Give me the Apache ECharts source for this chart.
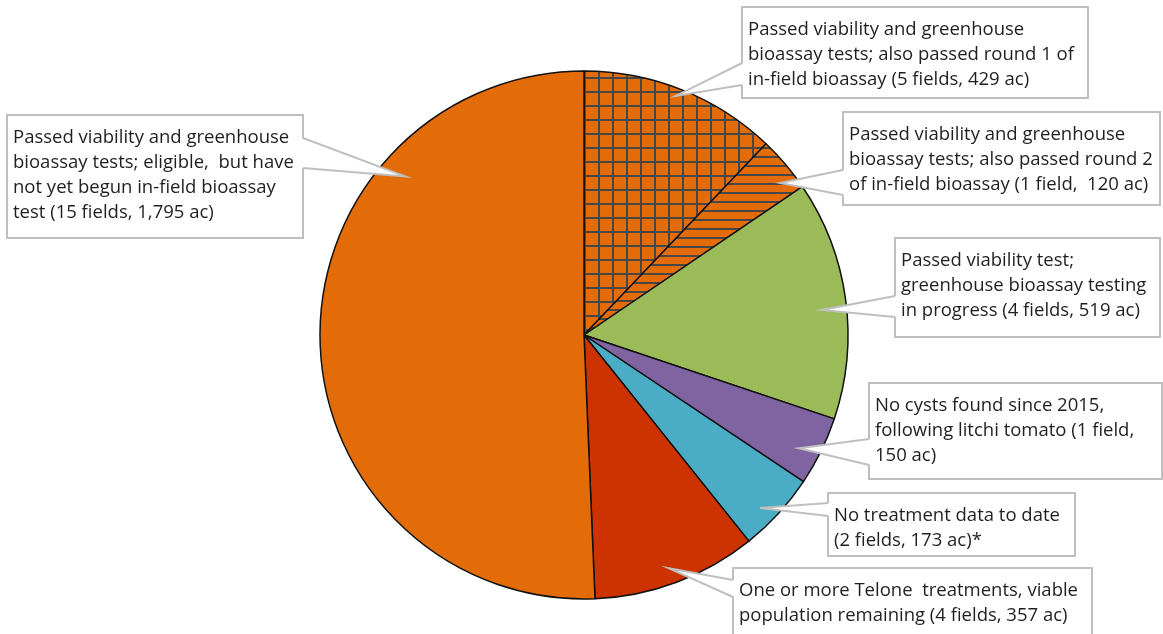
<!DOCTYPE html>
<html>
<head>
<meta charset="utf-8">
<script src="https://cdn.jsdelivr.net/npm/echarts@6/dist/echarts.min.js"></script>
<style>
html,body{margin:0;padding:0;background:#fff;}
#main{width:1163px;height:634px;}
</style>
</head>
<body>
<div id="main"></div>
<script>
// ---- data ----
const categories = [
  'Passed round 1 of in-field bioassay',
  'Passed round 2 of in-field bioassay',
  'Greenhouse bioassay testing in progress',
  'No cysts found since 2015',
  'No treatment data to date',
  'Telone treatments, viable population remaining',
  'Eligible, not yet begun in-field bioassay'
];
const acres  = [429, 120, 519, 150, 173, 357, 1795];
const fields = [5, 1, 4, 1, 2, 4, 15];
const labelTemplates = [
  'Passed viability and greenhouse\nbioassay tests; also passed round 1 of\nin-field bioassay ({f} fields, {a} ac)',
  'Passed viability and greenhouse\nbioassay tests; also passed round 2\nof in-field bioassay ({f} field,  {a} ac)',
  'Passed viability test;\ngreenhouse bioassay testing\nin progress ({f} fields, {a} ac)',
  'No cysts found since 2015,\nfollowing litchi tomato ({f} field,\n{a} ac)',
  'No treatment data to date\n({f} fields, {a} ac)*',
  'One or more Telone  treatments, viable\npopulation remaining ({f} fields, {a} ac)',
  'Passed viability and greenhouse\nbioassay tests; eligible,  but have\nnot yet begun in-field bioassay\ntest ({f} fields, {a} ac)'
];

// ---- styles / layout ----
const CX = 584, CY = 335, R = 264;
const ORANGE = '#E36C09';
function gridPattern() {
  const c = document.createElement('canvas'); c.width = 14; c.height = 14;
  const g = c.getContext('2d');
  g.fillStyle = ORANGE; g.fillRect(0, 0, 14, 14);
  g.fillStyle = '#474747';
  g.fillRect(10, 0, 2, 14);
  g.fillRect(0, 7, 14, 2);
  return c;
}
function horizPattern() {
  const c = document.createElement('canvas'); c.width = 9; c.height = 9;
  const g = c.getContext('2d');
  g.fillStyle = ORANGE; g.fillRect(0, 0, 9, 9);
  g.fillStyle = '#474747';
  g.fillRect(0, 3, 9, 2);
  return c;
}
const fills = [
  { image: gridPattern(), repeat: 'repeat' },
  { image: horizPattern(), repeat: 'repeat' },
  '#9BBB59', '#8064A2', '#4BACC6', '#CC3300', ORANGE
];
// callout boxes: rect, tip (angle clockwise from top, radius fraction), wedge base on a box edge
const callouts = [
  { x: 742, y: 7,   w: 346, h: 91,  ang: 21.0,  rf: 0.97,  edge: 'left',  b: [63, 85] },
  { x: 843, y: 112, w: 317, h: 93,  ang: 52.2,  rf: 0.94,  edge: 'left',  b: [170, 195] },
  { x: 895, y: 238, w: 265, h: 99,  ang: 84.0,  rf: 0.905, edge: 'left',  b: [296, 317] },
  { x: 869, y: 383, w: 293, h: 96,  ang: 117.8, rf: 0.92,  edge: 'left',  b: [439, 465] },
  { x: 828, y: 493, w: 247, h: 63,  ang: 134.5, rf: 0.935, edge: 'left',  b: [503, 516] },
  { x: 733, y: 568, w: 359, h: 80,  ang: 160.0, rf: 0.94,  edge: 'left',  b: [580, 597] },
  { x: 7,   y: 115, w: 296, h: 123, ang: 311.6, rf: 0.905, edge: 'right', b: [138, 168] }
];

const graphics = [];
callouts.forEach((c, i) => {
  const a = c.ang * Math.PI / 180;
  const tip = [CX + Math.sin(a) * R * c.rf, CY - Math.cos(a) * R * c.rf];
  const ex = c.edge === 'left' ? c.x : c.x + c.w;
  const inset = c.edge === 'left' ? 1.5 : -1.5;
  const text = labelTemplates[i]
    .replace('{f}', fields[i])
    .replace('{a}', acres[i].toLocaleString('en-US'));
  graphics.push(
    { type: 'rect', z: 10, silent: true,
      shape: { x: c.x, y: c.y, width: c.w, height: c.h },
      style: { fill: '#fff', stroke: '#BFBFBF', lineWidth: 2 } },
    { type: 'polygon', z: 11, silent: true,
      shape: { points: [tip, [ex + inset, c.b[0]], [ex + inset, c.b[1]]] },
      style: { fill: '#fff', stroke: null } },
    { type: 'polyline', z: 12, silent: true,
      shape: { points: [[ex, c.b[0]], tip, [ex, c.b[1]]] },
      style: { fill: null, stroke: '#BFBFBF', lineWidth: 2 } },
    { type: 'text', z: 13, silent: true, x: c.x + 6, y: c.y + 10,
      style: { text: text, fontFamily: 'Open Sans', fontSize: 18.5, lineHeight: 25,
               fill: '#1f1f1f', verticalAlign: 'top', align: 'left' } }
  );
});

const chart = echarts.init(document.getElementById('main'));
chart.setOption({
  animation: false,
  backgroundColor: '#fff',
  series: [{
    type: 'pie',
    center: [CX, CY],
    radius: R,
    startAngle: 90,
    clockwise: true,
    avoidLabelOverlap: false,
    label: { show: false },
    labelLine: { show: false },
    emphasis: { disabled: true },
    itemStyle: { borderColor: '#111', borderWidth: 1.5 },
    data: categories.map((n, i) => ({ name: n, value: acres[i], itemStyle: { color: fills[i] } }))
  }],
  graphic: graphics
});
</script>
</body>
</html>
